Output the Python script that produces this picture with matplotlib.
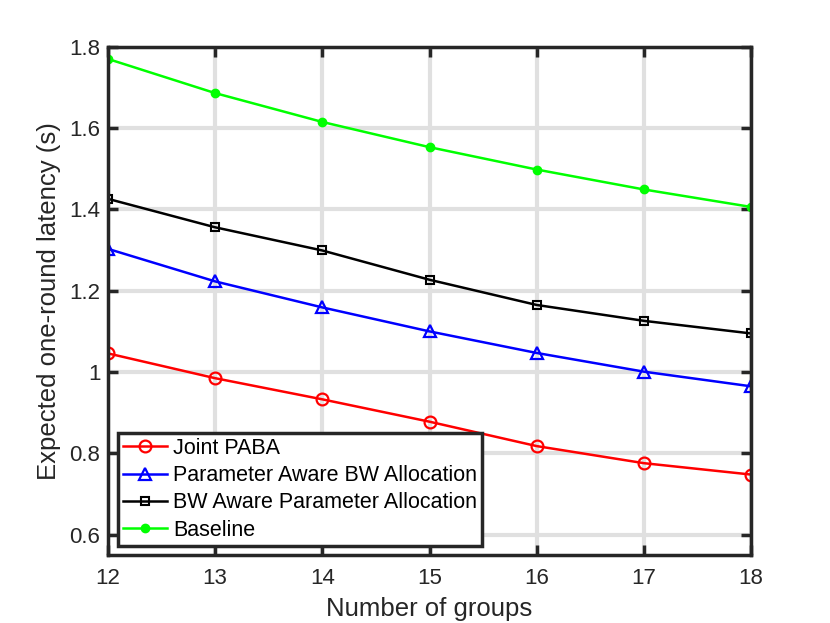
import matplotlib
matplotlib.use('Agg')
import matplotlib.pyplot as plt

plt.rcParams['font.family'] = ['Liberation Sans', 'DejaVu Sans']

groups = [12, 13, 14, 15, 16, 17, 18]
joint_paba = [1.046, 0.985, 0.933, 0.878, 0.818, 0.776, 0.748]
param_aware_bw = [1.303, 1.223, 1.159, 1.100, 1.047, 1.001, 0.965]
bw_aware_param = [1.426, 1.356, 1.299, 1.227, 1.165, 1.126, 1.095]
baseline = [1.770, 1.686, 1.615, 1.553, 1.498, 1.449, 1.406]

yticks = [0.6, 0.8, 1.0, 1.2, 1.4, 1.6, 1.8]
ytick_labels = ['0.6', '0.8', '1', '1.2', '1.4', '1.6', '1.8']

fig = plt.figure(figsize=(8.3, 6.23), dpi=100)
ax = fig.add_axes([0.130, 0.109, 0.775, 0.816])

ax.plot(groups, joint_paba, color='#ff0000', lw=1.8, marker='o', ms=8.5,
        mfc='none', mew=1.6, label='Joint PABA')
ax.plot(groups, param_aware_bw, color='#0000ff', lw=1.8, marker='^', ms=9,
        mfc='none', mew=1.6, label='Parameter Aware BW Allocation')
ax.plot(groups, bw_aware_param, color='#000000', lw=1.8, marker='s', ms=5.5,
        mfc='none', mew=1.5, label='BW Aware Parameter Allocation')
ax.plot(groups, baseline, color='#00ff00', lw=1.8, marker='o', ms=6,
        mfc='#00ff00', mec='#00ff00', label='Baseline')

ax.set_xlim(12, 18)
ax.set_ylim(0.55, 1.8)
ax.set_xticks(groups)
ax.set_yticks(yticks)
ax.set_yticklabels(ytick_labels)

ax.grid(True, color='#e0e0e0', lw=3)
ax.set_axisbelow(True)
for s in ax.spines.values():
    s.set_linewidth(2.5)
    s.set_color('#262626')
ax.tick_params(direction='in', length=7, width=2.5, color='#262626',
               labelsize=16, labelcolor='#262626', top=True, right=True)
ax.tick_params(axis='x', pad=9)
ax.tick_params(axis='y', pad=5.5)

ax.set_xlabel('Number of groups', fontsize=18.5, color='#262626', labelpad=6)
ax.set_ylabel('Expected one-round latency (s)', fontsize=18.5, color='#262626', labelpad=6)

leg = ax.legend(loc='lower left', bbox_to_anchor=(0.0155, 0.0177), fontsize=15.5,
                fancybox=False, framealpha=1, edgecolor='#262626',
                borderpad=0.25, labelspacing=0.29, handlelength=2.05,
                handletextpad=0.25, borderaxespad=0)
leg.get_frame().set_linewidth(2.5)
for t in leg.get_texts():
    t.set_color('#000000')

fig.savefig('out.png', dpi=100)
